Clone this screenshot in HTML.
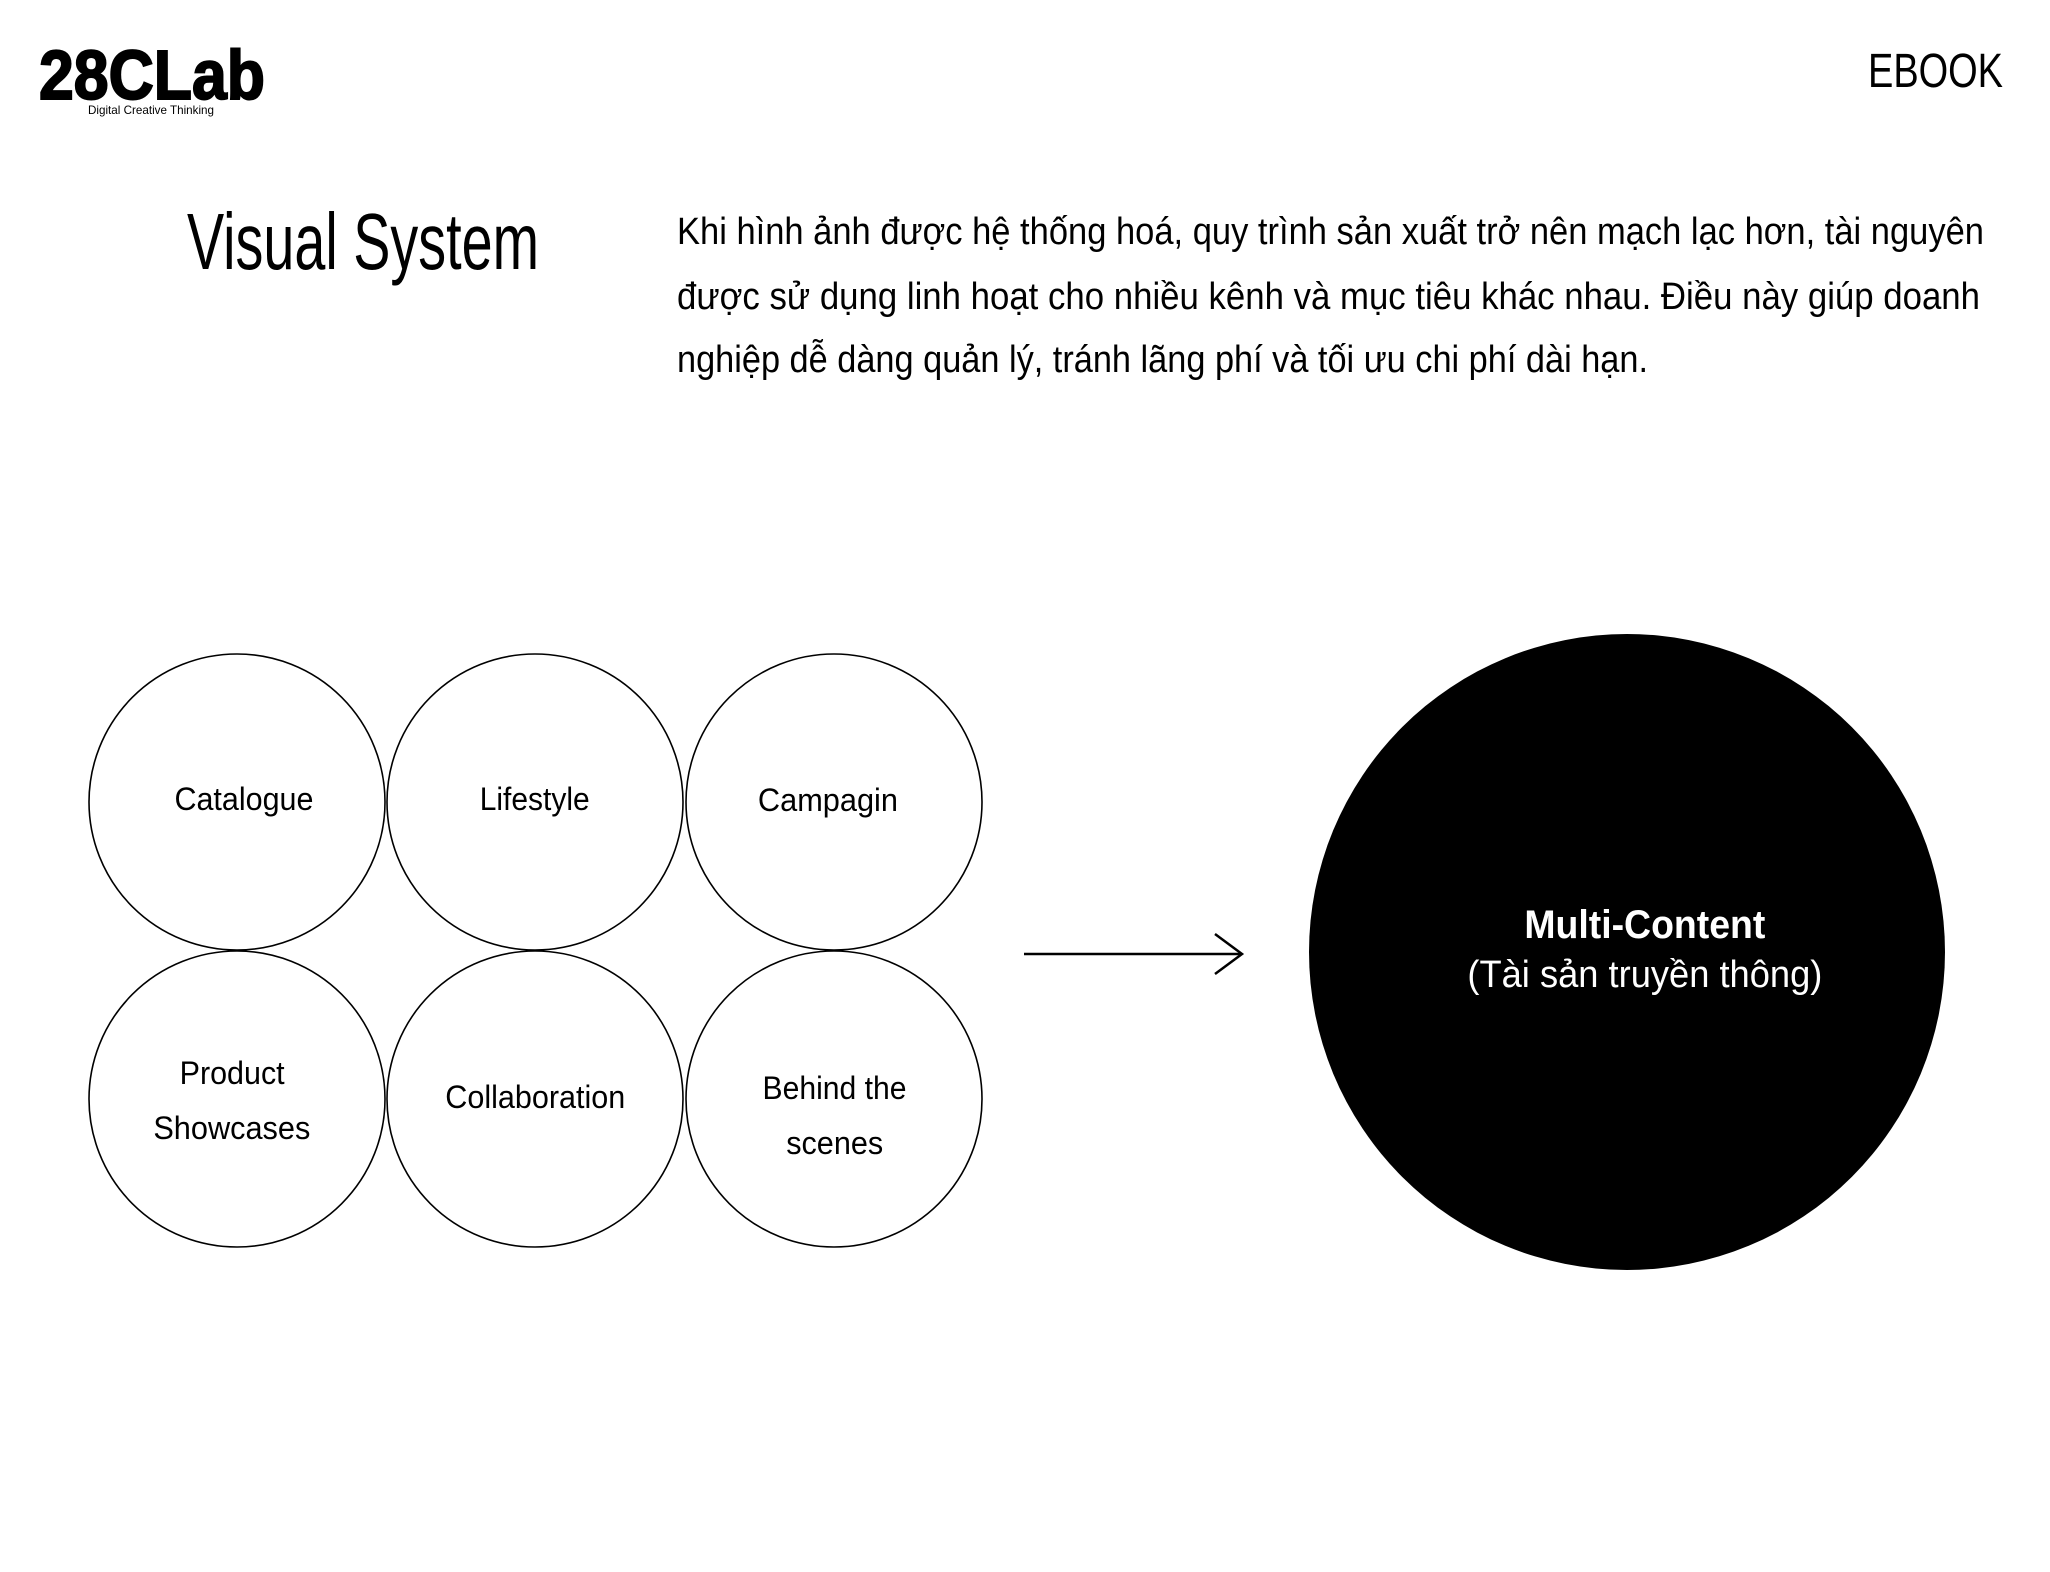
<!DOCTYPE html>
<html><head><meta charset="utf-8"><style>
html,body{margin:0;padding:0;background:#fff;}
body{width:2050px;height:1572px;position:relative;overflow:hidden;font-family:"Liberation Sans",sans-serif;color:#000;}
.t{position:absolute;white-space:nowrap;line-height:1;}
.l{transform-origin:left center;}
.c{transform-origin:center center;}
</style></head><body>
<svg width="2050" height="1572" style="position:absolute;left:0;top:0">
<g fill="none" stroke="#000" stroke-width="1.6">
<circle cx="237" cy="802" r="148"/>
<circle cx="535" cy="802" r="148"/>
<circle cx="834" cy="802" r="148"/>
<circle cx="237" cy="1099" r="148"/>
<circle cx="535" cy="1099" r="148"/>
<circle cx="834" cy="1099" r="148"/>
</g>
<circle cx="1627" cy="952" r="318" fill="#000"/>
<line x1="1024" y1="954" x2="1241" y2="954" stroke="#000" stroke-width="2.5"/>
<polyline points="1215,934 1242,954 1215,974" fill="none" stroke="#000" stroke-width="2.5"/>
</svg>

<div class="t l" id="a1" style="left:39px;top:40px;font-size:70px;font-weight:bold;-webkit-text-stroke:2px #000;">28CLab</div>
<div class="t l" id="a2" style="left:88px;top:104px;font-size:12px;">Digital Creative Thinking</div>
<div class="t l" id="a3" style="left:1868px;top:48px;font-size:48px;">EBOOK</div>
<div class="t l" id="a4" style="left:187px;top:202px;font-size:80px;font-weight:300;">Visual System</div>
<div class="t l" id="p1" style="left:677px;top:213px;font-size:38px;">Khi hình ảnh được hệ thống hoá, quy trình sản xuất trở nên mạch lạc hơn, tài nguyên</div>
<div class="t l" id="p2" style="left:677px;top:278px;font-size:38px;">được sử dụng linh hoạt cho nhiều kênh và mục tiêu khác nhau. Điều này giúp doanh</div>
<div class="t l" id="p3" style="left:677px;top:341px;font-size:38px;">nghiệp dễ dàng quản lý, tránh lãng phí và tối ưu chi phí dài hạn.</div>

<div class="t c" id="c1" style="font-size:32px;">Catalogue</div>
<div class="t c" id="c2" style="font-size:32px;">Lifestyle</div>
<div class="t c" id="c3" style="font-size:32px;">Campagin</div>
<div class="t c" id="c4" style="font-size:32px;">Product</div>
<div class="t c" id="c5" style="font-size:32px;">Showcases</div>
<div class="t c" id="c6" style="font-size:32px;">Collaboration</div>
<div class="t c" id="c7" style="font-size:32px;">Behind the</div>
<div class="t c" id="c8" style="font-size:32px;">scenes</div>
<div class="t c" id="m1" style="font-size:40px;font-weight:bold;color:#fff;">Multi-Content</div>
<div class="t c" id="m2" style="font-size:38px;color:#fff;">(Tài sản truyền thông)</div>

<script>
var fit={a1:226,a2:126,a3:135,a4:352,p1:1307,p2:1303,p3:971,
c1:139,c2:110,c3:140,c4:105,c5:157,c6:180,c7:144,c8:97,m1:241,m2:355};
var ctr={c1:[244,799],c2:[535,799],c3:[828,800],c4:[232,1073],c5:[232,1128],c6:[535,1097],c7:[835,1088],c8:[835,1143],m1:[1645,925],m2:[1645,975]};
for(var k in fit){var e=document.getElementById(k);var w=e.getBoundingClientRect().width;var s=fit[k]/w;
if(ctr[k]){var h=e.getBoundingClientRect().height;e.style.left=(ctr[k][0]-w/2)+'px';e.style.top=(ctr[k][1]-h/2)+'px';}
e.style.transform='scaleX('+s+')';}
</script>
</body></html>
